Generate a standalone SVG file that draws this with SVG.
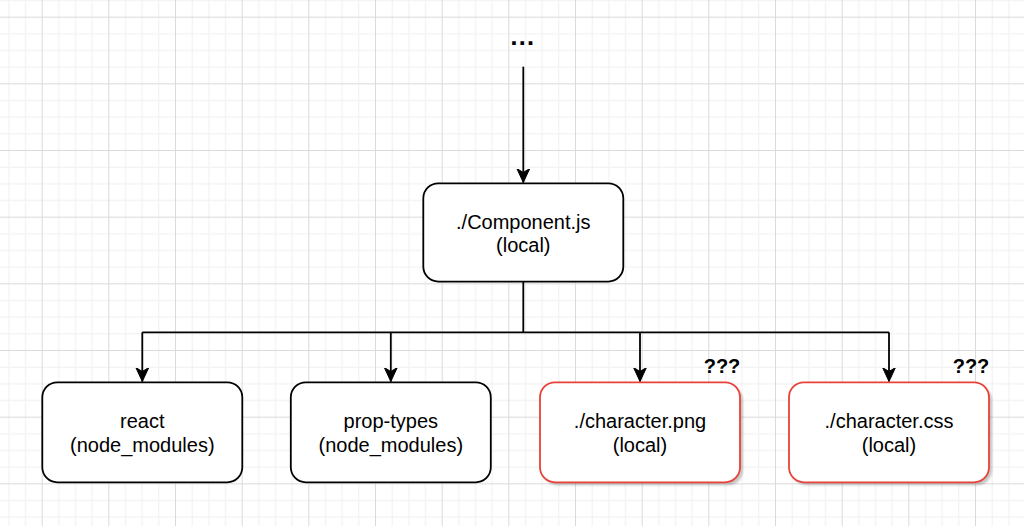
<svg xmlns="http://www.w3.org/2000/svg" width="1024" height="526" viewBox="0 0 1024 526">
  <style>
    .node { fill: #ffffff; stroke: #000000; stroke-width: 1.8; }
    .warn { fill: #ffffff; stroke: #e8423a; stroke-width: 1.8; }
    .shadow { fill: #000000; opacity: 0.22; }
    .label { font-family: "Liberation Sans", Arial, sans-serif; font-size: 20px; fill: #000000; text-anchor: middle; }
    .bold { font-family: "Liberation Sans", Arial, sans-serif; font-size: 20px; font-weight: bold; fill: #000000; text-anchor: middle; }
    .edge { fill: none; stroke: #000000; stroke-width: 1.8; }
  </style>
  <defs>
    <pattern id="grid" patternUnits="userSpaceOnUse" x="-25" y="-50" width="66.667" height="66.667">
      <rect x="16.667" y="0" width="1" height="66.667" fill="#f0f0f0"/>
      <rect x="33.333" y="0" width="1" height="66.667" fill="#f0f0f0"/>
      <rect x="50" y="0" width="1" height="66.667" fill="#f0f0f0"/>
      <rect x="0" y="16.667" width="66.667" height="1" fill="#f0f0f0"/>
      <rect x="0" y="33.333" width="66.667" height="1" fill="#f0f0f0"/>
      <rect x="0" y="50" width="66.667" height="1" fill="#f0f0f0"/>
      <rect x="0" y="0" width="1" height="66.667" fill="#dadada"/>
      <rect x="0" y="0" width="66.667" height="1" fill="#dadada"/>
    </pattern>
    <marker id="arrow" markerUnits="userSpaceOnUse" viewBox="-14 -7 15 14" refX="0" refY="0" markerWidth="15" markerHeight="14" orient="auto">
      <path d="M -14 -6.5 L 0 0 L -14 6.5 L -10 0 Z" fill="#000000" stroke="#000000" stroke-width="1" stroke-linejoin="miter"/>
    </marker>
    <filter id="blur" x="-10%" y="-10%" width="120%" height="120%">
      <feGaussianBlur stdDeviation="1.2"/>
    </filter>
  </defs>

  <rect x="0" y="0" width="1024" height="526" fill="#ffffff"/>
  <rect x="0" y="0" width="1024" height="526" fill="url(#grid)"/>

  <g id="connectors">
    <path class="edge" d="M 523.3 66.7 L 523.3 182.5" marker-end="url(#arrow)"/>
    <path class="edge" d="M 523.3 281.7 L 523.3 332.3"/>
    <path class="edge" d="M 142.3 332.3 L 889 332.3"/>
    <path class="edge" d="M 142.3 332.3 L 142.3 381.5" marker-end="url(#arrow)"/>
    <path class="edge" d="M 390.8 332.3 L 390.8 381.5" marker-end="url(#arrow)"/>
    <path class="edge" d="M 640 332.3 L 640 381.5" marker-end="url(#arrow)"/>
    <path class="edge" d="M 889 332.3 L 889 381.5" marker-end="url(#arrow)"/>
  </g>

  <g id="ellipsis">
    <text class="bold" x="522.3" y="44.5" style="font-size:26px">…</text>
  </g>

  <g id="component">
    <rect class="node" x="423.3" y="183.3" width="200" height="98.3" rx="15" ry="15"/>
    <text class="label" x="523.3" y="228.5">./Component.js</text>
    <text class="label" x="523.3" y="252">(local)</text>
  </g>

  <g id="react">
    <rect class="node" x="42.3" y="382.3" width="200" height="100" rx="15" ry="15"/>
    <text class="label" x="142.3" y="428">react</text>
    <text class="label" x="142.3" y="452">(node_modules)</text>
  </g>

  <g id="prop-types">
    <rect class="node" x="290.8" y="382.3" width="200" height="100" rx="15" ry="15"/>
    <text class="label" x="390.8" y="428">prop-types</text>
    <text class="label" x="390.8" y="452">(node_modules)</text>
  </g>

  <g id="character-png">
    <rect class="shadow" x="543" y="385.3" width="200" height="100" rx="15" ry="15" filter="url(#blur)"/>
    <rect class="warn" x="540" y="382.3" width="200" height="100" rx="15" ry="15"/>
    <text class="label" x="640" y="428">./character.png</text>
    <text class="label" x="640" y="452">(local)</text>
    <text class="bold" x="722" y="373">???</text>
  </g>

  <g id="character-css">
    <rect class="shadow" x="792" y="385.3" width="200" height="100" rx="15" ry="15" filter="url(#blur)"/>
    <rect class="warn" x="789" y="382.3" width="200" height="100" rx="15" ry="15"/>
    <text class="label" x="889" y="428">./character.css</text>
    <text class="label" x="889" y="452">(local)</text>
    <text class="bold" x="971" y="373">???</text>
  </g>
</svg>
